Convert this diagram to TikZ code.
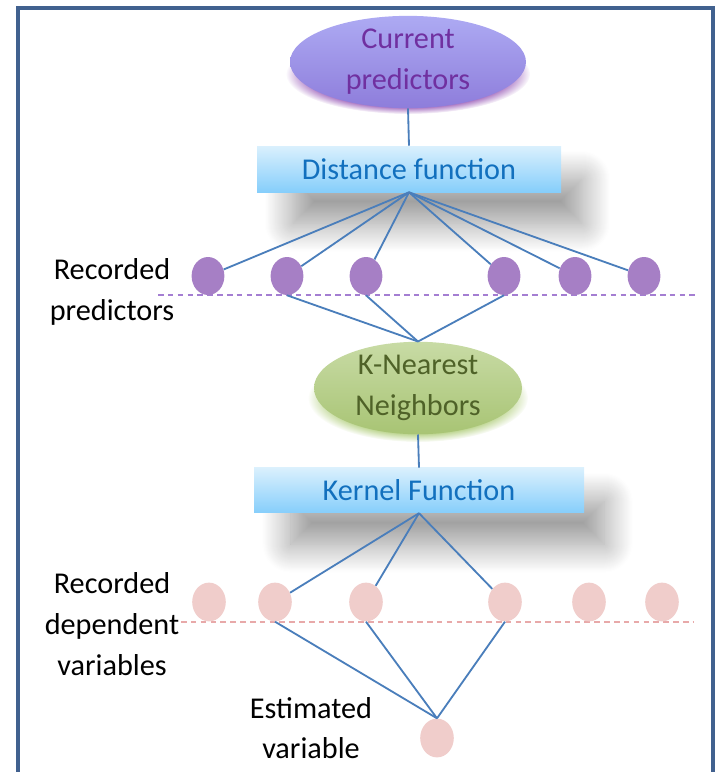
\documentclass[tikz,border=0pt]{standalone}
\usepackage{fontspec}
\setmainfont{Carlito}
\usetikzlibrary{shapes.geometric,shadows.blur,fadings}
\definecolor{FrameBlue}{HTML}{41618F}
\definecolor{LinkBlue}{HTML}{4A7EBB}
\definecolor{CurTop}{HTML}{ADAAF3}
\definecolor{CurBot}{HTML}{8E7DDB}
\definecolor{CurText}{HTML}{7030A0}
\definecolor{GlowPurple}{HTML}{9A5CB8}
\definecolor{BoxTop}{HTML}{DAF0FD}
\definecolor{BoxBot}{HTML}{86CEFB}
\definecolor{BoxText}{HTML}{1270BE}
\definecolor{KnnTop}{HTML}{C8DBA5}
\definecolor{KnnBot}{HTML}{A8C474}
\definecolor{KnnText}{HTML}{4F6228}
\definecolor{GlowGreen}{HTML}{B9D38A}
\definecolor{DotPurple}{HTML}{A67FC5}
\definecolor{DotPink}{HTML}{F0CDCB}
\definecolor{LinePurple}{HTML}{A47ED2}
\definecolor{LinePink}{HTML}{E8A9A9}

\tikzset{
  link/.style={LinkBlue, line width=1.3pt},
  funcbox/.style={rectangle, top color=BoxTop, bottom color=BoxBot, text=BoxText,
    inner sep=0pt,
    blur shadow={shadow xshift=0.75cm, shadow yshift=-0.85cm, shadow scale=0.95,
      shadow blur radius=0.75cm, shadow blur steps=30, shadow opacity=42}},
  blob/.style={ellipse, align=center, inner sep=0pt},
  preddot/.style={ellipse, fill=DotPurple, minimum width=0.82cm, minimum height=0.95cm, inner sep=0pt},
  depdot/.style={ellipse, fill=DotPink, minimum width=0.84cm, minimum height=0.97cm, inner sep=0pt},
  sidelabel/.style={align=center, text=black},
}

\begin{document}
\begin{tikzpicture}[font=\fontsize{21.5}{29}\selectfont]
  \useasboundingbox (0,0) rectangle (17.875,-19.3);
  % frame, open at the bottom
  \draw[FrameBlue, line width=2.2pt] (0.45,-19.6) -- (0.45,-0.2) -- (17.825,-0.2) -- (17.825,-19.6);

  % glows under the two ellipses
  \fill[GlowPurple, path fading=circle with fuzzy edge 20 percent] (10.2,-1.85) ellipse (3.05cm and 1.0cm);
  \fill[GlowGreen, path fading=circle with fuzzy edge 20 percent] (10.45,-9.95) ellipse (2.75cm and 1.1cm);

  % top half: predictors
  \node[blob, top color=CurTop, bottom color=CurBot, text=CurText,
        minimum width=5.9cm, minimum height=1.9cm] (cur) at (10.2,-1.55) {Current\\predictors};
  \node[funcbox, minimum width=7.6cm, minimum height=1.15cm] (dist) at (10.225,-4.225) {Distance function};

  \draw[LinePurple, dashed, dash pattern=on 4pt off 3pt, line width=1pt] (3.95,-7.375) -- (17.375,-7.375);
  \foreach \i/\x in {1/5.2,2/7.175,3/9.15,4/12.6,5/14.375,6/16.1}
    \node[preddot] (p\i) at (\x,-6.9) {};
  \node[sidelabel] (reclab) at (2.8,-7.3) {Recorded\\predictors};

  \node[blob, top color=KnnTop, bottom color=KnnBot, text=KnnText,
        minimum width=5.2cm, minimum height=2.075cm] (knn) at (10.45,-9.7) {K-Nearest\\Neighbors};

  % bottom half: dependent variables
  \node[funcbox, minimum width=8.25cm, minimum height=1.125cm] (kern) at (10.475,-12.26) {Kernel Function};

  \draw[LinePink, dashed, dash pattern=on 4pt off 3pt, line width=1pt] (4.525,-15.55) -- (17.325,-15.55);
  \foreach \i/\x in {1/5.225,2/6.875,3/9.15,4/12.625,5/14.725,6/16.55}
    \node[depdot] (d\i) at (\x,-15.05) {};
  \node[sidelabel] (deplab) at (2.8,-15.6) {Recorded\\dependent\\variables};

  \node[depdot] (est) at (10.925,-18.45) {};
  \node[sidelabel] (estlab) at (7.775,-18.2) {Estimated\\variable};

  % connectors
  \draw[link] (cur.south) -- (dist.north);
  \foreach \i in {1,...,6}
    \draw[link] (dist.south) -- (p\i);
  \foreach \i in {2,3,4}
    \draw[link] (p\i.south) -- (knn.north);
  \draw[link] (knn.south) -- (kern.north);
  \foreach \i in {2,3,4}{
    \draw[link] (kern.south) -- (d\i);
    \draw[link] (d\i.south) -- (est.north);
  }
\end{tikzpicture}
\end{document}
